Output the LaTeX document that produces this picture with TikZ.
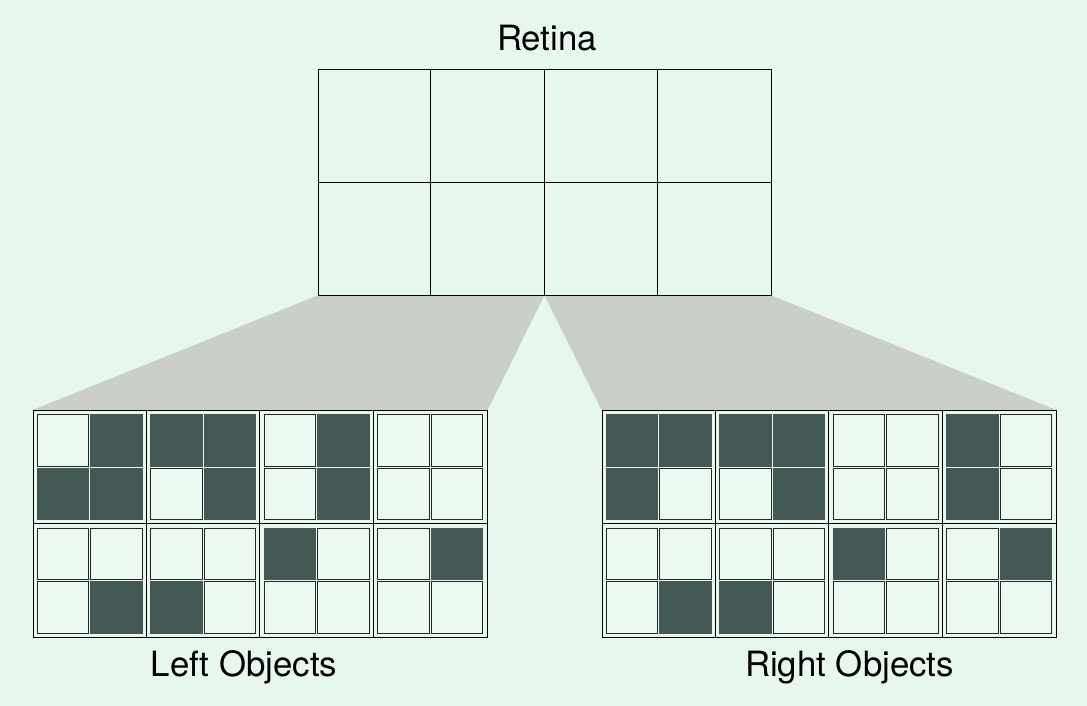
\documentclass[tikz,border=0pt]{standalone}
\usepackage{fontspec}
\setmainfont{TeX Gyre Heros}
\usepackage{tikz}
\usetikzlibrary{
    positioning,
    backgrounds
}
\definecolor{bgmint}{HTML}{E8F7EE}
\definecolor{cellmint}{HTML}{ECF9F1}
\definecolor{celldark}{HTML}{445856}
\definecolor{funnelgray}{HTML}{CBCFC9}
\tikzset{
    retina box/.style={
        draw=black, line width=1pt, inner sep=0pt,
        minimum width=453pt, minimum height=225pt
    },
    object box/.style={
        draw=black, line width=1pt, inner sep=0pt,
        minimum width=454pt, minimum height=227pt
    },
    funnel/.style={fill=funnelgray},
    cell0/.style={draw=black!85, fill=cellmint, line width=1pt},
    cell1/.style={draw=celldark, fill=celldark, line width=1pt},
    caption/.style={font=\fontsize{34.8}{40}\selectfont, anchor=base},
}

\begin{document}
\begin{tikzpicture}[x=1pt, y=-1pt]
    \useasboundingbox (0,0) rectangle (1087,706);

    \node[retina box] (retina) at (544.5,182.5) {};
    \node[object box] (leftobj) at (260,524) {};
    \node[object box] (rightobj) at (829,524) {};

    \begin{scope}[on background layer]
        \fill[bgmint] (0,0) rectangle (1087,706);
        \fill[funnel] (retina.south west) -- (retina.south)
            -- (leftobj.north east) -- (leftobj.north west) -- cycle;
        \fill[funnel] (retina.south) -- (retina.south east)
            -- (rightobj.north east) -- (rightobj.north west) -- cycle;
    \end{scope}

    % retina grid
    \begin{scope}[shift={(retina.north west)}, line width=1pt]
        \foreach \k in {1,2,3} {
            \draw ({113.25*\k},0) -- ({113.25*\k},225);
        }
        \draw (0,112.5) -- (453,112.5);
    \end{scope}

    % object cells: block / column / row / four bits
    \foreach \blk/\i/\j/\a/\b/\c/\d in {
        leftobj/0/0/0/1/1/1, leftobj/1/0/1/1/0/1,
        leftobj/2/0/0/1/0/1, leftobj/3/0/0/0/0/0,
        leftobj/0/1/0/0/0/1, leftobj/1/1/0/0/1/0,
        leftobj/2/1/1/0/0/0, leftobj/3/1/0/1/0/0,
        rightobj/0/0/1/1/1/0, rightobj/1/0/1/1/0/1,
        rightobj/2/0/0/0/0/0, rightobj/3/0/1/0/1/0,
        rightobj/0/1/0/0/0/1, rightobj/1/1/0/0/1/0,
        rightobj/2/1/1/0/0/0, rightobj/3/1/0/1/0/0} {
        \begin{scope}[shift={(\blk.north west)}]
            \draw[cell\a] ({113.5*\i+4.5},{113.5*\j+4.5}) rectangle ++(51.5,51.5);
            \draw[cell\b] ({113.5*\i+58},{113.5*\j+4.5}) rectangle ++(51.5,51.5);
            \draw[cell\c] ({113.5*\i+4.5},{113.5*\j+58}) rectangle ++(51.5,51.5);
            \draw[cell\d] ({113.5*\i+58},{113.5*\j+58}) rectangle ++(51.5,51.5);
        \end{scope}
    }

    % super cell dividers
    \foreach \blk in {leftobj,rightobj} {
        \begin{scope}[shift={(\blk.north west)}, line width=1pt]
            \foreach \k in {1,2,3} {
                \draw ({113.5*\k},0) -- ({113.5*\k},227);
            }
            \draw (0,113.5) -- (454,113.5);
        \end{scope}
    }

    \node[caption] (retinalabel) at (547,51) {Retina};
    \node[caption] (leftlabel) at (244,676) {Left Objects};
    \node[caption] (rightlabel) at (849.5,676) {Right Objects};
\end{tikzpicture}
\end{document}
